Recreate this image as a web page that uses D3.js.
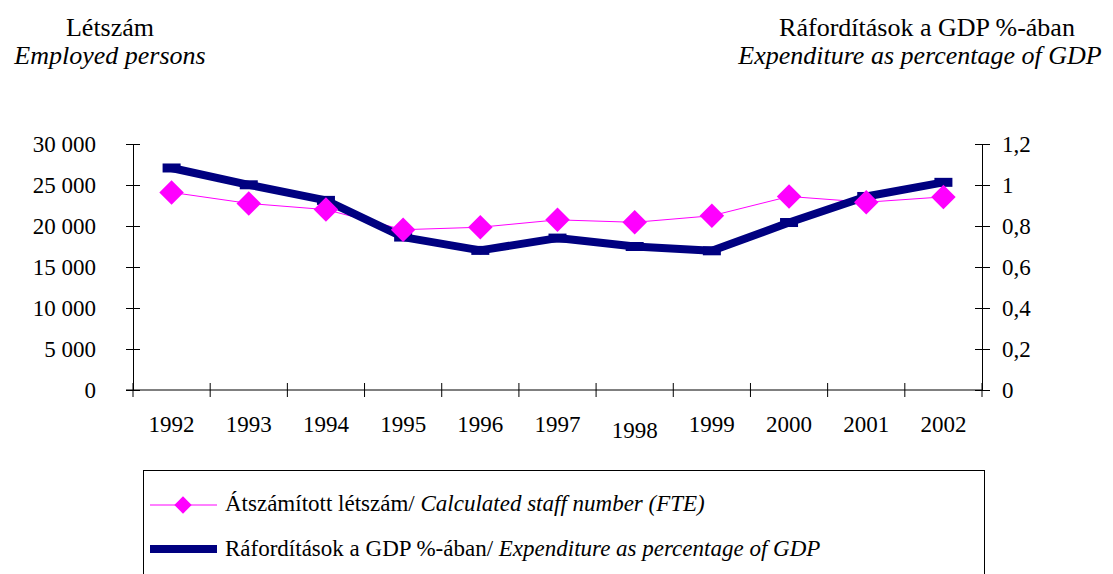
<!DOCTYPE html>
<html>
<head>
<meta charset="utf-8">
<script src="https://cdn.jsdelivr.net/npm/d3@7"></script>
<style>
  body { margin: 0; background: #fff; }
  svg { display: block; }
</style>
</head>
<body>
<svg id="chart" width="1113" height="574"></svg>
<script>
// data
const years = ['1992', '1993', '1994', '1995', '1996', '1997', '1998', '1999', '2000', '2001', '2002'];
const staffFTE = [24100, 22750, 22000, 19550, 19850, 20750, 20450, 21250, 23600, 22900, 23550];
const gdpShare = [1.083, 1.001, 0.925, 0.746, 0.681, 0.741, 0.700, 0.679, 0.817, 0.944, 1.013];
const leftTicks = [0, 5000, 10000, 15000, 20000, 25000, 30000];
const rightTicks = [0, 0.2, 0.4, 0.6, 0.8, 1, 1.2];

const serif = '"Liberation Serif", "Times New Roman", Times, serif';

let svg = d3.select('#chart');

let huLocale = d3.formatLocale({ decimal: ',', thousands: ' ', grouping: [3], currency: ['', ''] });

let plotL = 133, plotR = 982, plotT = 144, plotB = 390;

let x = d3.scaleBand().domain(years).range([plotL, plotR]);
let yLeft = d3.scaleLinear().domain([0, 30000]).range([plotB, plotT]);
let yRight = d3.scaleLinear().domain([0, 1.2]).range([plotB, plotT]);

// titles
svg.append('text').attr('x', 110).attr('y', 36).attr('text-anchor', 'middle')
  .style('font-size', '26px').text('Létszám');
svg.append('text').attr('x', 110).attr('y', 64).attr('text-anchor', 'middle')
  .style('font-size', '26px').style('font-style', 'italic').text('Employed persons');
svg.append('text').attr('x', 927).attr('y', 36).attr('text-anchor', 'middle')
  .style('font-size', '26px').text('Ráfordítások a GDP %-ában');
svg.append('text').attr('x', 920).attr('y', 64).attr('text-anchor', 'middle')
  .style('font-size', '26px').style('font-style', 'italic').text('Expenditure as percentage of GDP');

// left axis
let leftAxis = svg.append('g')
  .attr('transform', `translate(${plotL},0)`)
  .call(d3.axisLeft(yLeft).tickValues(leftTicks).tickSize(7).tickSizeOuter(0).tickPadding(30)
    .tickFormat(huLocale.format(',')));
leftAxis.selectAll('.tick line').attr('x1', 7);

// right axis
let rightAxis = svg.append('g')
  .attr('transform', `translate(${plotR},0)`)
  .call(d3.axisRight(yRight).tickValues(rightTicks).tickSize(8).tickSizeOuter(0).tickPadding(12)
    .tickFormat(huLocale.format('.1~f')));
rightAxis.selectAll('.tick line').attr('x1', -7);

// bottom axis, labels at band centres
let bottomAxis = svg.append('g')
  .attr('transform', `translate(0,${plotB})`)
  .call(d3.axisBottom(x).tickSize(0).tickSizeOuter(0).tickPadding(25));
bottomAxis.select('.domain').attr('d', `M${plotL - 7},0H${plotR}`);
bottomAxis.selectAll('.tick text').attr('dy', (d) => d === '1998' ? '0.98em' : '0.76em');

// boundary ticks on the category axis
bottomAxis.selectAll('.bound')
  .data(years.concat(['end']))
  .join('line')
  .attr('class', 'bound')
  .attr('x1', (d) => d === 'end' ? plotR : x(d))
  .attr('x2', (d) => d === 'end' ? plotR : x(d))
  .attr('y1', -7).attr('y2', 7)
  .attr('stroke', '#000');

svg.selectAll('g').attr('font-family', null);
svg.selectAll('.domain, .tick line').attr('stroke', '#000');
svg.selectAll('.tick text').style('font-size', '23px').attr('fill', '#000');

let cx = (d, i) => x(years[i]) + x.bandwidth() / 2;

// staff line (left axis)
svg.append('path')
  .datum(staffFTE)
  .attr('fill', 'none')
  .attr('stroke', '#ff00ff')
  .attr('stroke-width', 1)
  .attr('d', d3.line().x(cx).y((d) => yLeft(d)));

// GDP share line (right axis)
svg.append('path')
  .datum(gdpShare)
  .attr('fill', 'none')
  .attr('stroke', '#000080')
  .attr('stroke-width', 8)
  .attr('stroke-linejoin', 'round')
  .attr('d', d3.line().x(cx).y((d) => yRight(d)));

svg.selectAll('.gdpMark')
  .data(gdpShare)
  .join('rect')
  .attr('class', 'gdpMark')
  .attr('x', (d, i) => cx(d, i) - 9)
  .attr('y', (d) => yRight(d) - 4.5)
  .attr('width', 18).attr('height', 9)
  .attr('fill', '#000080');

let diamond = d3.symbol().type(d3.symbolSquare).size(300);
svg.selectAll('.staffMark')
  .data(staffFTE)
  .join('path')
  .attr('class', 'staffMark')
  .attr('d', diamond)
  .attr('transform', (d, i) => `translate(${cx(d, i)},${yLeft(d)}) rotate(45)`)
  .attr('fill', '#ff00ff');

// legend
let legend = svg.append('g');
legend.append('rect')
  .attr('x', 143.5).attr('y', 470.5).attr('width', 841).attr('height', 140)
  .attr('fill', 'none').attr('stroke', '#000').attr('stroke-width', 1);

legend.append('line').attr('x1', 150).attr('x2', 217).attr('y1', 505).attr('y2', 505)
  .attr('stroke', '#ff00ff').attr('stroke-width', 1);
legend.append('path').attr('d', d3.symbol().type(d3.symbolSquare).size(150))
  .attr('transform', 'translate(183,505) rotate(45)').attr('fill', '#ff00ff');
let t1 = legend.append('text').attr('x', 225).attr('y', 511).style('font-size', '23px');
t1.append('tspan').text('Átszámított létszám/ ');
t1.append('tspan').style('font-style', 'italic').text('Calculated staff number (FTE)');

legend.append('line').attr('x1', 150).attr('x2', 217).attr('y1', 549).attr('y2', 549)
  .attr('stroke', '#000080').attr('stroke-width', 8);
let t2 = legend.append('text').attr('x', 225).attr('y', 556).style('font-size', '23px');
t2.append('tspan').text('Ráfordítások a GDP %-ában/ ');
t2.append('tspan').style('font-style', 'italic').text('Expenditure as percentage of GDP');

// every label in a Times-like face
svg.selectAll('text, tspan').style('font-family', serif);
</script>
</body>
</html>
